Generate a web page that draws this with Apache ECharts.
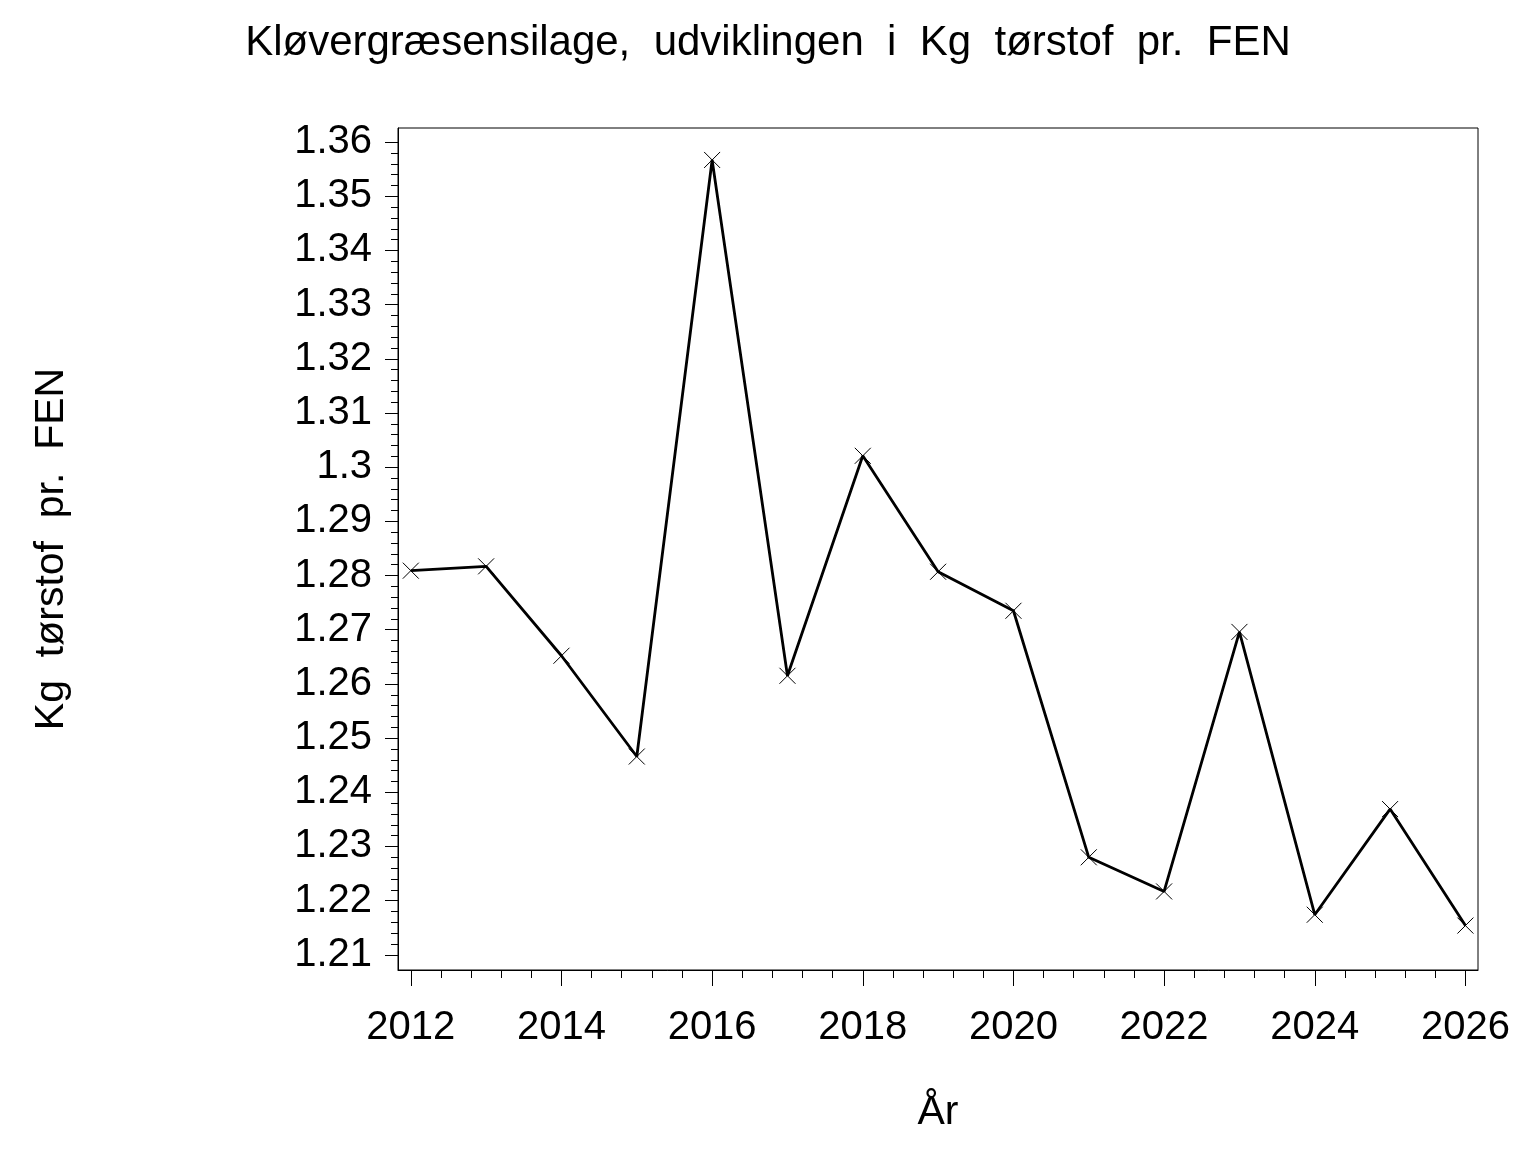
<!DOCTYPE html>
<html>
<head>
<meta charset="utf-8">
<script src="https://cdn.jsdelivr.net/npm/echarts@6/dist/echarts.min.js"></script>
<style>
html,body{margin:0;padding:0;background:#fff;}
#chart{width:1536px;height:1152px;}
</style>
</head>
<body>
<div id="chart"></div>
<script>
var years = [2012, 2013, 2014, 2015, 2016, 2017, 2018, 2019, 2020, 2021, 2022, 2023, 2024, 2025, 2026];
var kgTsPerFen = [1.2809, 1.2817, 1.2652, 1.2466, 1.3567, 1.2615, 1.3021, 1.2807, 1.2735, 1.2280, 1.2217, 1.2696, 1.2174, 1.2369, 1.2154];
var xTickLabels = ['2012', '2014', '2016', '2018', '2020', '2022', '2024', '2026'];
var yTickLabels = ['1.21', '1.22', '1.23', '1.24', '1.25', '1.26', '1.27', '1.28', '1.29', '1.3', '1.31', '1.32', '1.33', '1.34', '1.35', '1.36'];

var titleText = 'Kløvergræsensilage,  udviklingen  i  Kg  tørstof  pr.  FEN';
var yName = 'Kg  tørstof  pr.  FEN';
var xName = 'År';

var xMajor = xTickLabels.map(Number);
var yMajor = yTickLabels.map(Number);
var xMinor = [];
for (var i = 0; i <= 35; i++) xMinor.push(+(2012 + i * 0.4).toFixed(2));
var yMinor = [];
for (var j = 0; j <= 75; j++) yMinor.push(+(1.21 + j * 0.002).toFixed(3));

var FONT = '"Liberation Sans", Arial, sans-serif';
var xMin = 2011.83, xMax = 2026.167;
var yMin = 1.2072, yMax = 1.3626;

var chart = echarts.init(document.getElementById('chart'), null, {renderer: 'canvas'});
chart.setOption({
  animation: false,
  backgroundColor: '#fff',
  title: {
    text: titleText,
    left: 'center',
    top: 17,
    textStyle: {fontFamily: FONT, fontSize: 42, fontWeight: 'normal', color: '#000'}
  },
  grid: {
    left: 398, top: 128, width: 1080, height: 842,
    show: true, borderColor: '#000', borderWidth: 1, backgroundColor: 'transparent'
  },
  xAxis: [{
    type: 'value', min: xMin, max: xMax, position: 'bottom',
    name: xName, nameLocation: 'middle', nameGap: 122,
    nameTextStyle: {fontFamily: FONT, fontSize: 41, color: '#000'},
    axisLine: {show: true, lineStyle: {color: '#000', width: 1}},
    axisTick: {show: true, inside: false, length: 16, customValues: xMajor, lineStyle: {color: '#000', width: 1}},
    axisLabel: {show: true, customValues: xMajor, margin: 38, fontFamily: FONT, fontSize: 40, color: '#000',
      formatter: function (v) { return String(Math.round(v)); }},
    splitLine: {show: false}
  }, {
    type: 'value', min: xMin, max: xMax, position: 'bottom', offset: 0,
    axisLine: {show: false},
    axisTick: {show: true, inside: false, length: 8, customValues: xMinor, lineStyle: {color: '#000', width: 1}},
    axisLabel: {show: false},
    splitLine: {show: false}
  }],
  yAxis: [{
    type: 'value', min: yMin, max: yMax, position: 'left',
    name: yName, nameLocation: 'middle', nameGap: 326, nameRotate: 90,
    nameTextStyle: {fontFamily: FONT, fontSize: 41, color: '#000'},
    axisLine: {show: true, lineStyle: {color: '#000', width: 1}},
    axisTick: {show: true, inside: false, length: 13, customValues: yMajor, lineStyle: {color: '#000', width: 1}},
    axisLabel: {show: true, customValues: yMajor, margin: 26, fontFamily: FONT, fontSize: 40, color: '#000',
      formatter: function (v) { return String(Number(v.toFixed(2))); }},
    splitLine: {show: false}
  }, {
    type: 'value', min: yMin, max: yMax, position: 'left', offset: 0,
    axisLine: {show: false},
    axisTick: {show: true, inside: false, length: 7, customValues: yMinor, lineStyle: {color: '#000', width: 1}},
    axisLabel: {show: false},
    splitLine: {show: false}
  }],
  series: [{
    type: 'line',
    xAxisIndex: 0, yAxisIndex: 0,
    data: years.map(function (y, k) { return [y, kgTsPerFen[k]]; }),
    symbol: 'path://M0,0L16,16M16,0L0,16',
    symbolSize: 16,
    showAllSymbol: true,
    itemStyle: {color: 'none', borderColor: '#000', borderWidth: 1},
    lineStyle: {color: '#000', width: 2.8},
    emphasis: {disabled: true}
  }]
});
</script>
</body>
</html>
